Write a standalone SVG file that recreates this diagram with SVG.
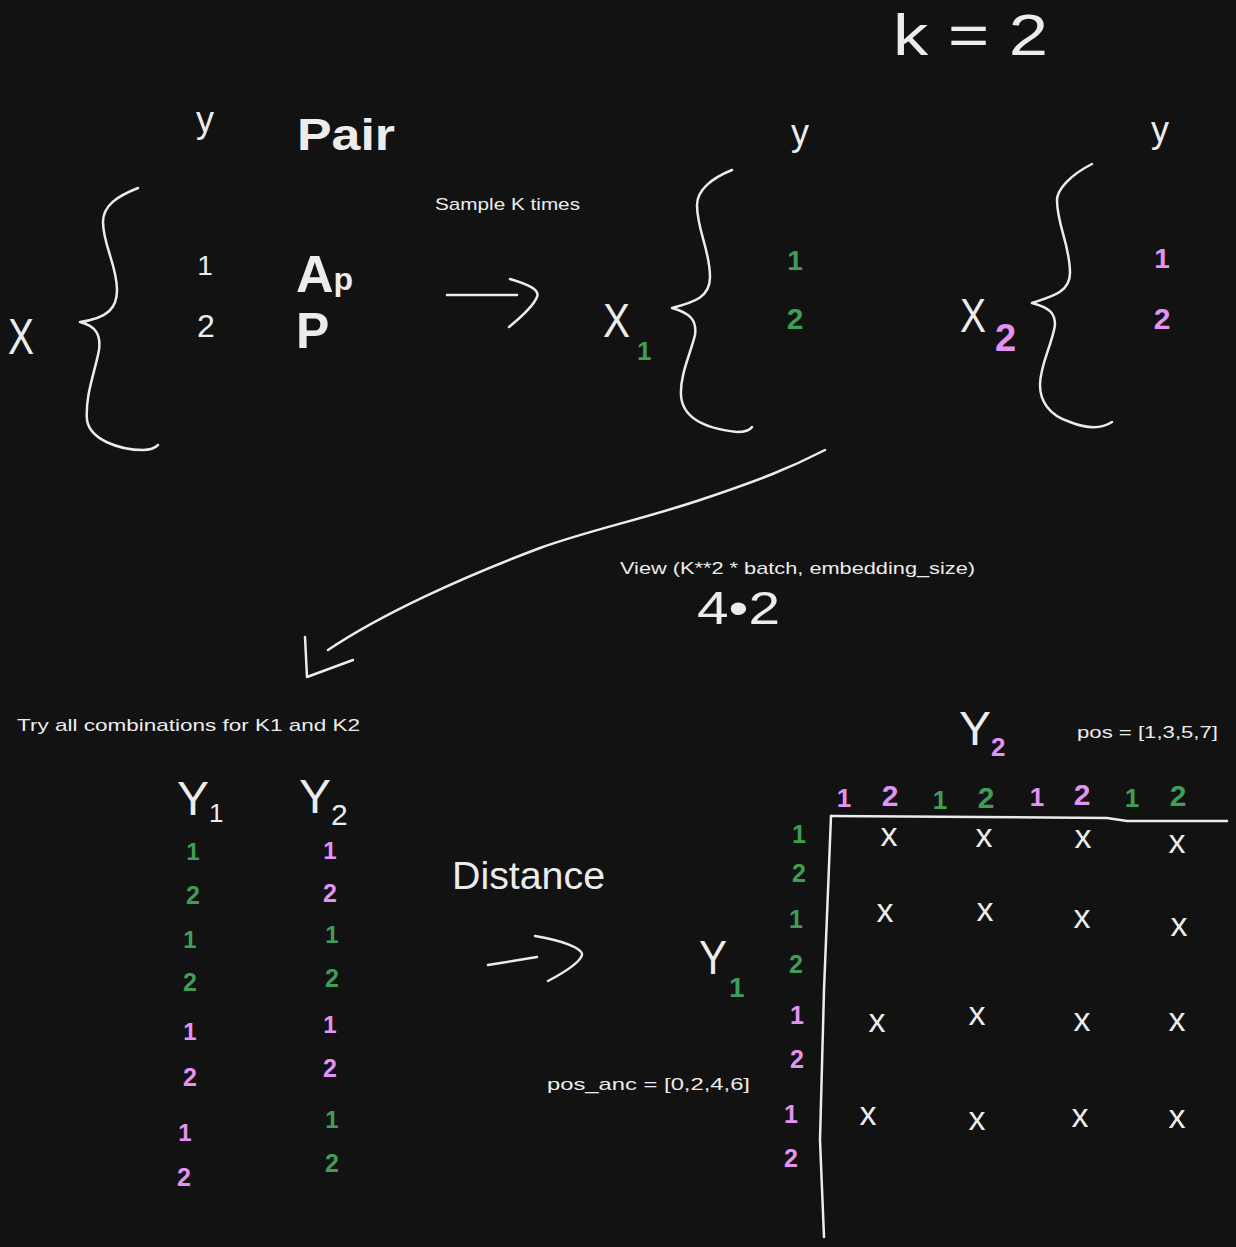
<svg xmlns="http://www.w3.org/2000/svg" width="1236" height="1247" viewBox="0 0 1236 1247">
<style>
text{font-family:"Liberation Sans",Arial,sans-serif}
.w{fill:#ececec}
.g{fill:#3f9e55;font-weight:bold}
.p{fill:#e293f3;font-weight:bold}
.c{text-anchor:middle}
.s{font-size:17px;fill:#ececec}
.ln{fill:none;stroke:#ececec;stroke-width:2.5;stroke-linecap:round;stroke-linejoin:round}
.x{fill:#ececec;font-size:34px;text-anchor:middle}
</style>
<rect width="1236" height="1247" fill="#121212"/>

<g id="title"><text class="w" x="893" y="55" font-size="58" textLength="155" lengthAdjust="spacingAndGlyphs">k = 2</text></g>

<g id="source-set">
<text class="w c" x="205" y="132" font-size="36">y</text>
<text class="w" x="297" y="150" font-size="44" font-weight="bold" textLength="98" lengthAdjust="spacingAndGlyphs">Pair</text>
<text class="w c" x="205" y="275" font-size="28">1</text>
<text class="w c" x="206" y="337" font-size="32">2</text>
<text class="w" x="296" y="292" font-size="52" font-weight="bold">A<tspan font-size="32" dy="-2">p</tspan></text>
<text class="w" x="296" y="348" font-size="50" font-weight="bold">P</text>
<text class="w" x="8" y="354" font-size="50" textLength="26" lengthAdjust="spacingAndGlyphs">X</text>
<path class="ln" d="M138,188 C118,196 103,205 103,222 C103,245 117,265 117,290 C117,308 108,318 80,322 C96,326 101,335 99,350 C95,372 85,395 87,420 C90,440 120,450 143,450 C150,450 155,448 158,445"/>
</g>

<g id="sample-label"><text class="s" x="435" y="210" textLength="145" lengthAdjust="spacingAndGlyphs">Sample K times</text></g>

<g id="set-x1">
<text class="w" x="603" y="337" font-size="48"><tspan textLength="27" lengthAdjust="spacingAndGlyphs">X</tspan><tspan class="g" font-weight="normal" font-size="26" dx="7" dy="23">1</tspan></text>
<path class="ln" d="M732,170 C712,178 697,190 697,205 C697,230 710,250 710,277 C710,297 695,302 672,308 C690,313 697,320 695,335 C690,355 680,375 681,395 C682,415 700,428 737,432 C745,432 750,430 752,427"/>
<text class="w c" x="800" y="145" font-size="36">y</text>
<text class="g c" x="795" y="270" font-size="28">1</text>
<text class="g c" x="795" y="329" font-size="30">2</text>
</g>

<g id="set-x2">
<text class="w" x="960" y="332" font-size="48"><tspan textLength="26" lengthAdjust="spacingAndGlyphs">X</tspan><tspan class="p" font-size="38" dx="9" dy="19">2</tspan></text>
<path class="ln" d="M1092,164 C1070,175 1057,190 1057,200 C1057,225 1070,245 1070,273 C1070,293 1050,297 1032,303 C1050,308 1055,313 1055,325 C1052,345 1040,365 1040,385 C1040,400 1048,415 1070,422 C1085,428 1100,430 1112,422"/>
<text class="w c" x="1160" y="142" font-size="36">y</text>
<text class="p c" x="1162" y="268" font-size="28">1</text>
<text class="p c" x="1162" y="329" font-size="30">2</text>
</g>

<g id="view-label">
<text class="s" x="620" y="574" textLength="355" lengthAdjust="spacingAndGlyphs">View (K**2 * batch, embedding_size)</text>
<text class="w" x="697" y="624" font-size="46" textLength="83" lengthAdjust="spacingAndGlyphs">4•2</text>
</g>

<g id="combos">
<text class="s" x="17" y="731" textLength="343" lengthAdjust="spacingAndGlyphs">Try all combinations for K1 and K2</text>
<text class="w" x="177" y="815" font-size="48">Y<tspan font-size="26" dy="7">1</tspan></text>
<text class="w" x="299" y="813" font-size="48">Y<tspan font-size="30" dy="12">2</tspan></text>
<text class="g c" x="193" y="860" font-size="24">1</text>
<text class="g c" x="193" y="904" font-size="25">2</text>
<text class="g c" x="190" y="948" font-size="24">1</text>
<text class="g c" x="190" y="991" font-size="25">2</text>
<text class="p c" x="190" y="1040" font-size="24">1</text>
<text class="p c" x="190" y="1086" font-size="25">2</text>
<text class="p c" x="185" y="1141" font-size="24">1</text>
<text class="p c" x="184" y="1186" font-size="25">2</text>
<text class="p c" x="330" y="859" font-size="24">1</text>
<text class="p c" x="330" y="902" font-size="25">2</text>
<text class="g c" x="332" y="943" font-size="24">1</text>
<text class="g c" x="332" y="987" font-size="25">2</text>
<text class="p c" x="330" y="1033" font-size="24">1</text>
<text class="p c" x="330" y="1077" font-size="25">2</text>
<text class="g c" x="332" y="1128" font-size="24">1</text>
<text class="g c" x="332" y="1172" font-size="25">2</text>
</g>

<g id="distance">
<text class="w" x="452" y="889" font-size="38" textLength="153" lengthAdjust="spacingAndGlyphs">Distance</text>
</g>

<g id="matrix">
<text class="w" x="959" y="745" font-size="48">Y<tspan class="p" font-size="26" dy="11">2</tspan></text>
<text class="s" x="1077" y="738" textLength="141" lengthAdjust="spacingAndGlyphs">pos = [1,3,5,7]</text>
<text class="w" x="699" y="974" font-size="48"><tspan textLength="28" lengthAdjust="spacingAndGlyphs">Y</tspan><tspan class="g" font-weight="normal" font-size="28" dx="2" dy="23">1</tspan></text>
<text class="s" x="547" y="1090" textLength="203" lengthAdjust="spacingAndGlyphs">pos_anc = [0,2,4,6]</text>
<text class="p c" x="844" y="807" font-size="26">1</text>
<text class="p c" x="890" y="806" font-size="30">2</text>
<text class="g c" x="940" y="809" font-size="26">1</text>
<text class="g c" x="986" y="808" font-size="30">2</text>
<text class="p c" x="1037" y="806" font-size="26">1</text>
<text class="p c" x="1082" y="805" font-size="30">2</text>
<text class="g c" x="1132" y="807" font-size="26">1</text>
<text class="g c" x="1178" y="806" font-size="30">2</text>
<text class="g c" x="799" y="843" font-size="25">1</text>
<text class="g c" x="799" y="882" font-size="25">2</text>
<text class="g c" x="796" y="928" font-size="25">1</text>
<text class="g c" x="796" y="973" font-size="25">2</text>
<text class="p c" x="797" y="1024" font-size="25">1</text>
<text class="p c" x="797" y="1068" font-size="25">2</text>
<text class="p c" x="791" y="1123" font-size="25">1</text>
<text class="p c" x="791" y="1167" font-size="25">2</text>
<text class="x" x="889" y="846">x</text>
<text class="x" x="984" y="847">x</text>
<text class="x" x="1083" y="848">x</text>
<text class="x" x="1177" y="853">x</text>
<text class="x" x="885" y="922">x</text>
<text class="x" x="985" y="921">x</text>
<text class="x" x="1082" y="928">x</text>
<text class="x" x="1179" y="936">x</text>
<text class="x" x="877" y="1032">x</text>
<text class="x" x="977" y="1025">x</text>
<text class="x" x="1082" y="1031">x</text>
<text class="x" x="1177" y="1031">x</text>
<text class="x" x="868" y="1125">x</text>
<text class="x" x="977" y="1130">x</text>
<text class="x" x="1080" y="1127">x</text>
<text class="x" x="1177" y="1128">x</text>
<path class="ln" d="M831,816 L1107,818 L1127,821 L1227,821"/>
<path class="ln" d="M831,816 L824,990 L820,1140 L824,1237"/>
</g>

<g id="connectors">
<path class="ln" d="M447,295 L517,295"/>
<path class="ln" d="M510,279 C530,285 540,290 537,297 C533,307 520,318 509,327"/>
<path class="ln" d="M825,450 C790,468 760,480 700,500 C640,520 590,530 540,548 C460,578 380,615 328,650"/>
<path class="ln" d="M305,637 L307,677 L353,660"/>
<path class="ln" d="M488,965 L537,957"/>
<path class="ln" d="M535,936 C560,940 583,948 582,955 C580,962 565,972 548,981"/>
</g>
</svg>
